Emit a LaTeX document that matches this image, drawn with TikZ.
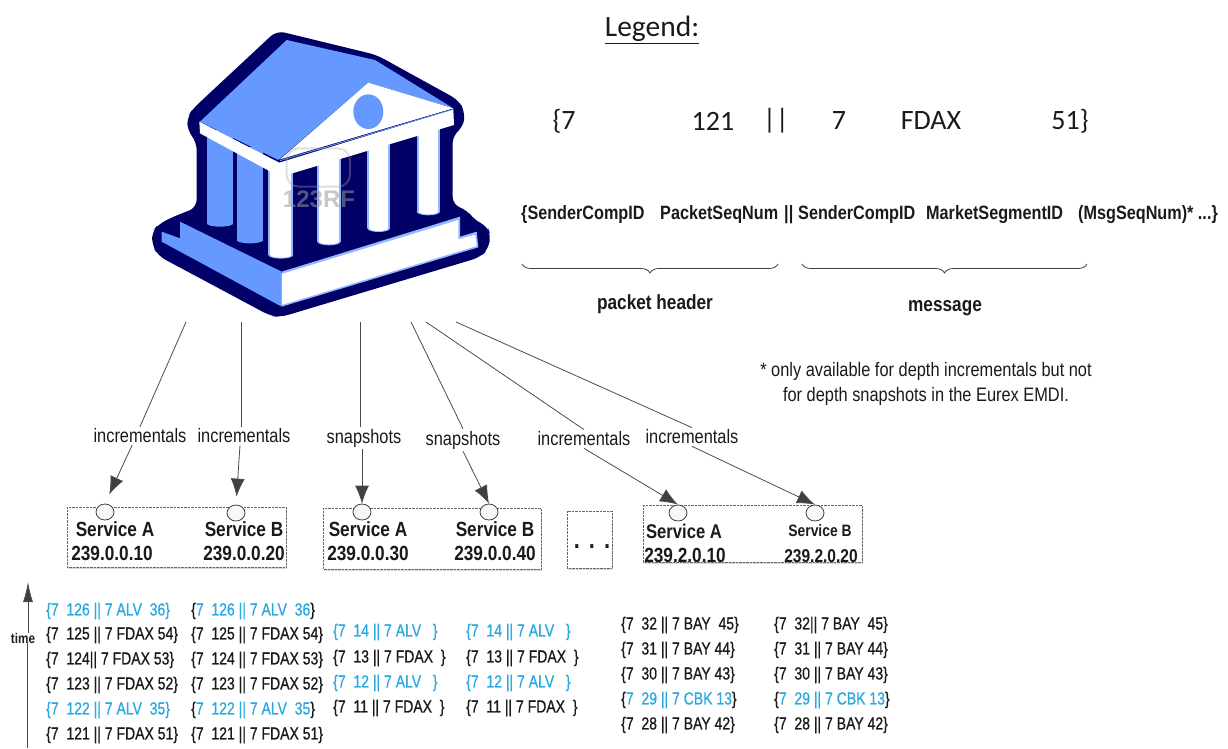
\documentclass[tikz,border=0pt]{standalone}
\usepackage{fontspec}
\usetikzlibrary{arrows.meta,decorations.pathreplacing,shadows,shapes.geometric}
\setmainfont{Liberation Sans}
\newfontfamily\legfont{Carlito}
\newfontfamily\nar[FakeStretch=0.84]{Liberation Sans}
\newfontfamily\narb[FakeStretch=0.84]{Liberation Sans Bold}
\newfontfamily\lstf[FakeStretch=0.8,FakeBold=0.7]{Liberation Sans}
\definecolor{bdark}{HTML}{000066}
\definecolor{bmid}{HTML}{6699FF}
\definecolor{cy}{HTML}{29A9E0}
\definecolor{txt}{HTML}{1A1A1A}
\newcommand{\cc}[1]{\textcolor{cy}{#1}}
\tikzset{
  x=1pt,y=-1pt,
  lst/.style={anchor=west,inner sep=0pt,font=\lstf\fontsize{17.5}{17.5}\selectfont,text=txt},
  lstc/.style={lst,text=cy},
  leg/.style={inner sep=0pt,font=\legfont\fontsize{28}{28}\selectfont,text=txt},
  fld/.style={anchor=west,inner sep=0pt,font=\narb\fontsize{19.3}{19.3}\selectfont,text=txt},
  edgelab/.style={inner sep=2pt,font=\nar\fontsize{19.5}{19.5}\selectfont,text=txt},
  svc/.style={inner sep=0pt,font=\narb\fontsize{20.5}{20.5}\selectfont,text=txt},
  svcbox/.style={draw=black!60,densely dotted,fill=white,drop shadow={shadow xshift=1pt,shadow yshift=-1.5pt,fill=black!25,opacity=.6}},
  port/.style={draw=black!75,line width=.8pt,fill=black!3,ellipse,minimum width=18pt,minimum height=16pt,inner sep=0pt},
  conn/.style={draw=black!70,line width=.8pt},
  arr/.style={conn,-{Latex[length=18pt,width=14pt,fill=black!75]}},
}
\begin{document}
\begin{tikzpicture}
\useasboundingbox (0,0) rectangle (1228,749);
% building
\begin{scope}[shift={(130,40)},x=0.33333pt,y=-0.33333pt]
\fill[bdark,rounded corners=8pt] (440,-28)--(740,45)--(985,180)--(1005,215)--(1000,262)--(968,285)--(968,495)--(1012,510)--(1032,540)--(1072,558)--(1082,585)--(1075,628)--(1050,652)--(450,832)--(420,827)--(85,648)--(66,615)--(66,575)--(85,553)--(130,530)--(200,503)--(200,305)--(172,272)--(172,230)--(190,205)--cycle;
\foreach \xa/\xb/\ya/\yb/\c in {230/310/270/550/bmid,320/400/320/600/bmid} {
  \fill[\c] (\xa,\ya) rectangle (\xb,\yb);
  \fill[\c] (\xa+40,\yb) ellipse[x radius=40,y radius=10];
}
\foreach \xa/\xb/\ya/\yb in {415/490/380/645,562/632/340/605,712/780/300/565,860/930/260/515} {
  \fill[bmid!70] (\xa,\ya) rectangle (\xb,\yb);
  \fill[bmid!70] ({(\xa+\xb)/2},\yb) ellipse[x radius={(\xb-\xa)/2},y radius=11];
  \fill[white] (\xa+6,\ya) rectangle (\xb-6,\yb);
  \fill[white] ({(\xa+\xb)/2},\yb) ellipse[x radius={(\xb-\xa)/2-6},y radius=8];
}
\fill[bmid] (470,0)--(735,60)--(970,205)--(715,128)--(445,360)--(210,245)--cycle;
\fill[white] (208,245)--(448,368)--(970,208)--(972,255)--(470,405)--(440,405)--(210,280)--cycle;
\fill[white] (715,128)--(970,205)--(450,358)--cycle;
\draw[bmid,line width=.8pt] (450,362)--(970,208);
\fill[bmid] (715,215) ellipse[x radius=45,y radius=52];
\fill[bmid] (95,575)--(150,595)--(150,545)--(455,695)--(455,800)--(95,605)--cycle;
\fill[bmid!70] (455,695)--(990,530)--(990,590)--(1040,575)--(1045,622)--(455,800)--cycle;
\fill[white] (455,702)--(985,540)--(985,598)--(1036,584)--(1040,618)--(455,795)--cycle;
\draw[black!35,opacity=.35,line width=2pt,rounded corners=12pt] (470,325) rectangle (660,440);
\node[inner sep=0pt,text=black!40,opacity=.55,font=\bfseries\fontsize{24}{24}\selectfont] (wm) at (567,477) {123RF};
\end{scope}
% legend
\node[inner sep=0pt,font=\legfont\fontsize{29.5}{29.5}\selectfont,text=txt] (legend) at (652,30) {\underline{Legend:}};
\node[leg] (l1) at (564,121) {\{7};
\node[leg] (l2) at (713,121) {121};
\node[leg] (l3) at (776,121) {||};
\node[leg] (l4) at (839,121) {7};
\node[leg] (l5) at (931,121) {FDAX};
\node[leg] (l6) at (1070,121) {51\}};
\node[fld] (f1) at (521,215) {\{SenderCompID};
\node[fld] (f2) at (660,215) {PacketSeqNum};
\node[fld] (f3) at (784,215) {||};
\node[fld] (f4) at (798,215) {SenderCompID};
\node[fld] (f5) at (926,215) {MarketSegmentID};
\node[fld] (f6) at (1078,215) {(MsgSeqNum)* ...\}};
\coordinate (b1a) at (522,264); \coordinate (b1b) at (778,264);
\coordinate (b2a) at (802,264); \coordinate (b2b) at (1087,264);
\draw[black!75,line width=.8pt,decorate,decoration={brace,mirror,amplitude=9pt}] (b1a) -- (b1b);
\draw[black!75,line width=.8pt,decorate,decoration={brace,mirror,amplitude=9pt}] (b2a) -- (b2b);
\node[svc] (ph) at (655,304) {packet header};
\node[svc] (ms) at (945,308) {message};
\node[inner sep=0pt,align=center,font=\nar\fontsize{19.5}{25}\selectfont,text=txt] (note) at (926,384) {* only available for depth incrementals but not\\for depth snapshots in the Eurex EMDI.};
% boxes
\path[svcbox] (67,507) rectangle (286,567);
\path[svcbox] (323,508) rectangle (541,569);
\path[svcbox] (567,511) rectangle (612,568);
\path[svcbox] (643,505) rectangle (862,562);
\node[port] (p1) at (105,512) {};
\node[port] (p2) at (236,513) {};
\node[port] (p3) at (362,512) {};
\node[port] (p4) at (489,512) {};
\node[port] (p5) at (678,513) {};
\node[port] (p6) at (815,513) {};
\node[svc] (s1) at (115,529) {Service A};
\node[svc] (a1) at (112,553) {239.0.0.10};
\node[svc] (s2) at (244,529) {Service B};
\node[svc] (a2) at (244,553) {239.0.0.20};
\node[svc] (s3) at (368,529) {Service A};
\node[svc] (a3) at (368,553) {239.0.0.30};
\node[svc] (s4) at (495,529) {Service B};
\node[svc] (a4) at (495,553) {239.0.0.40};
\node[svc,font=\narb\fontsize{19.8}{19.8}\selectfont] (s5) at (684,531) {Service A};
\node[svc] (a5) at (685,555) {239.2.0.10};
\node[svc,font=\nar\fontsize{16.5}{16.5}\selectfont\bfseries] (s6) at (820,531) {Service B};
\node[svc,font=\narb\fontsize{18.5}{18.5}\selectfont] (a6) at (821,556) {239.2.0.20};
\node[svc] (dots) at (592,547) {\fontsize{26}{26}\selectfont .\hspace{9pt}.\hspace{9pt}.};
% connectors
\coordinate (o1) at (186,322); \coordinate (o2) at (241,322); \coordinate (o3) at (360,322);
\coordinate (o4) at (411,322); \coordinate (o5) at (426,322); \coordinate (o6) at (456,322);
\node[edgelab] (e1) at (140,436) {incrementals};
\node[edgelab] (e2) at (244,436) {incrementals};
\node[edgelab] (e3) at (364,438) {snapshots};
\node[edgelab] (e4) at (463,440) {snapshots};
\node[edgelab] (e5) at (584,439) {incrementals};
\node[edgelab] (e6) at (692,437) {incrementals};
\draw[conn] (o1) -- (e1.north);
\draw[conn] (o2) -- (e2.north -| o2);
\draw[conn] (o3) -- (e3.north -| o3);
\draw[conn] (o4) -- (e4.north);
\draw[conn] (o5) -- (e5.north);
\draw[conn] (o6) -- (e6.north);
\draw[arr,shorten >=10pt] (e1.south) ++(-8,0) -- (p1.north);
\draw[arr,shorten >=8pt] (e2.south -| p2) ++(4,0) -- (p2.north);
\draw[arr] (e3.south -| p3) -- (p3.north);
\draw[arr] (e4.south) -- (p4.north);
\draw[arr] (e5.south) -- (p5.north);
\draw[arr] (e6.south) -- (p6.north);
% time
\coordinate (t0) at (27,748); \coordinate (t1) at (28,582);
\node[inner sep=0pt,font=\narb\fontsize{14}{14}\selectfont,text=txt] (time) at (23,638) {time};
\draw[conn] (t0) -- (time.south -| t0);
\draw[conn,-{Latex[length=20pt,width=10pt,fill=black!75]}] (time.north -| t1) -- (t1);
% column 1
\node[lstc] (a1r1) at (46,611) {\{7~~126 || 7 ALV~~36\}};
\node[lst] (a1r2) at (46,635) {\{7~~125 || 7 FDAX 54\}};
\node[lst] (a1r3) at (46,660) {\{7~~124|| 7 FDAX 53\}};
\node[lst] (a1r4) at (46,685) {\{7~~123 || 7 FDAX 52\}};
\node[lstc] (a1r5) at (46,710) {\{7~~122 || 7 ALV~~35\}};
\node[lst] (a1r6) at (46,735) {\{7~~121 || 7 FDAX 51\}};
% column 2
\node[lst] (a2r1) at (191,611) {\{\cc{7~~126 || 7 ALV~~36}\}};
\node[lst] (a2r2) at (191,635) {\{7~~125 || 7 FDAX 54\}};
\node[lst] (a2r3) at (191,660) {\{7~~124 || 7 FDAX 53\}};
\node[lst] (a2r4) at (191,685) {\{7~~123 || 7 FDAX 52\}};
\node[lst] (a2r5) at (191,710) {\{\cc{7~~122 || 7 ALV~~35}\}};
\node[lst] (a2r6) at (191,735) {\{7~~121 || 7 FDAX 51\}};
% column 3
\node[lstc] (a3r1) at (333,632) {\{7~~14 || 7 ALV~~~\}};
\node[lst] (a3r2) at (333,658) {\{7~~13 || 7 FDAX~~\}};
\node[lstc] (a3r3) at (333,683) {\{7~~12 || 7 ALV~~~\}};
\node[lst] (a3r4) at (333,708) {\{7~~11 || 7 FDAX~~\}};
% column 4
\node[lstc] (a4r1) at (466,632) {\{7~~14 || 7 ALV~~~\}};
\node[lst] (a4r2) at (466,658) {\{7~~13 || 7 FDAX~~\}};
\node[lstc] (a4r3) at (466,683) {\{7~~12 || 7 ALV~~~\}};
\node[lst] (a4r4) at (466,708) {\{7~~11 || 7 FDAX~~\}};
% column 5
\node[lst] (a5r1) at (621,625) {\{7~~32 || 7 BAY~~45\}};
\node[lst] (a5r2) at (621,650) {\{7~~31 || 7 BAY 44\}};
\node[lst] (a5r3) at (621,675) {\{7~~30 || 7 BAY 43\}};
\node[lst] (a5r4) at (621,700) {\{\cc{7~~29 || 7 CBK 13}\}};
\node[lst] (a5r5) at (621,725) {\{7~~28 || 7 BAY 42\}};
% column 6
\node[lst] (a6r1) at (774,625) {\{7~~32|| 7 BAY~~45\}};
\node[lst] (a6r2) at (774,650) {\{7~~31 || 7 BAY 44\}};
\node[lst] (a6r3) at (774,675) {\{7~~30 || 7 BAY 43\}};
\node[lst] (a6r4) at (774,700) {\{\cc{7~~29 || 7 CBK 13}\}};
\node[lst] (a6r5) at (774,725) {\{7~~28 || 7 BAY 42\}};
\end{tikzpicture}
\end{document}
